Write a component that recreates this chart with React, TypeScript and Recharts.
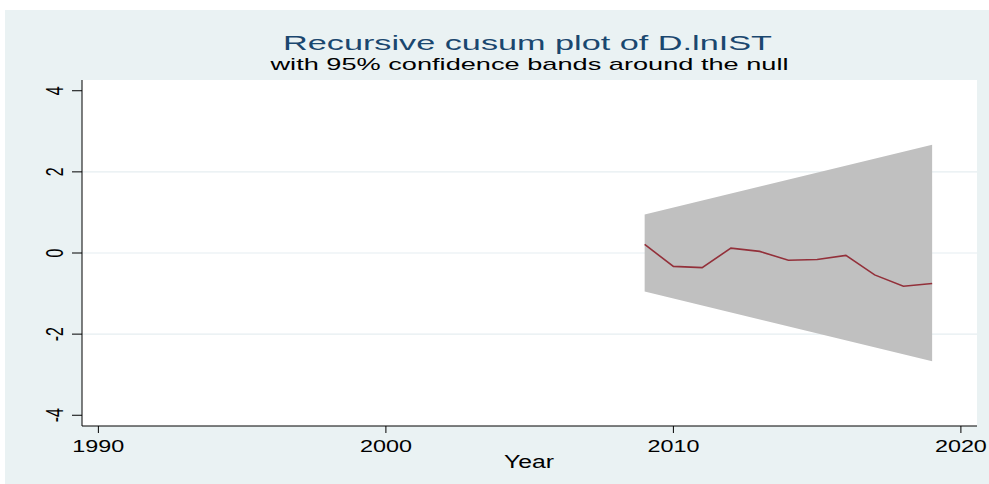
import { ComposedChart, Line, Area, XAxis, YAxis, CartesianGrid } from 'recharts';

// recursive cusum and its 95% band (band given at the first and last year)
const years = [2009, 2010, 2011, 2012, 2013, 2014, 2015, 2016, 2017, 2018, 2019];
const cusum = [0.21, -0.33, -0.36, 0.12, 0.04, -0.18, -0.16, -0.06, -0.54, -0.82, -0.75];
const bandYears = [2009, 2019];
const bandLower = [-0.95, -2.67];
const bandUpper = [0.95, 2.67];

const xTicks = [1990, 2000, 2010, 2020];
const yTicks = [-4, -2, 0, 2, 4];
const gridValues = [-2, 0, 2];
const yDomain: [number, number] = [-4.265, 4.265];

const rows = years.map((year, i) => {
  const b = bandYears.indexOf(year);
  return {
    year,
    cusum: cusum[i],
    lo: b >= 0 ? bandLower[b] : null,
    hi: b >= 0 ? bandUpper[b] : null,
  };
});

const FONT = '"Liberation Sans", Arial, sans-serif';

// gridlines only at the inner ticks, placed on the y scale
const gridRows = ({ yAxis, offset }: any) => {
  const scale = yAxis?.scale;
  if (typeof scale === 'function') return gridValues.map(v => scale(v));
  const [lo, hi] = yDomain;
  return gridValues.map(v => offset.top + ((hi - v) / (hi - lo)) * offset.height);
};

const XTick = (props: any) => {
  const { x, payload } = props;
  return (
    <text x={x} y={452} textAnchor="middle" fontFamily={FONT} fontSize={16.5}
      fill="#000" textLength={52} lengthAdjust="spacingAndGlyphs">
      {payload.value}
    </text>
  );
};

const YTick = (props: any) => {
  const { y, payload } = props;
  return (
    <text transform={`translate(62.5, ${y}) scale(1.5, 1) rotate(-90)`} textAnchor="middle"
      fontFamily={FONT} fontSize={16} fill="#000">
      {payload.value}
    </text>
  );
};

export default function App() {
  return (
    <div style={{ position: 'fixed', left: 0, top: 0, width: 989, height: 484, background: '#fff', overflow: 'hidden' }}>
      <div style={{ position: 'absolute', left: 5, top: 10, width: 984, height: 474, background: '#EAF2F3' }} />
      <div style={{ position: 'absolute', left: 0, top: 0 }}>
        <ComposedChart width={989} height={484} data={rows}
          margin={{ top: 80, right: 12, bottom: 0, left: 0 }}>
          <CartesianGrid vertical={false} fill="#fff" stroke="#E6EEF1" strokeWidth={1.2}
            horizontalCoordinatesGenerator={gridRows} />
          <XAxis dataKey="year" type="number" domain={[1989.43, 2020.56]} ticks={xTicks}
            allowDataOverflow height={58} tickSize={7} tick={XTick}
            axisLine={{ stroke: '#000' }} tickLine={{ stroke: '#000' }} />
          <YAxis type="number" domain={yDomain} ticks={yTicks} allowDataOverflow
            width={82} tickSize={10} tick={YTick}
            axisLine={{ stroke: '#000' }} tickLine={{ stroke: '#000' }} />
          <Area type="linear" dataKey={(d: any) => (d.lo == null ? null : [d.lo, d.hi])}
            fill="#C0C0C0" fillOpacity={1} stroke="none" connectNulls isAnimationActive={false} />
          <Line type="linear" dataKey="cusum" stroke="#93303A" strokeWidth={1.6} dot={false}
            isAnimationActive={false} />
        </ComposedChart>
      </div>
      <svg width={989} height={484} style={{ position: 'absolute', left: 0, top: 0, pointerEvents: 'none' }}>
        <text x={527.5} y={49.5} textAnchor="middle" fontFamily={FONT} fontSize={21} fill="#1A476F"
          textLength={489} lengthAdjust="spacingAndGlyphs">
          Recursive cusum plot of D.lnIST
        </text>
        <text x={529.5} y={69.5} textAnchor="middle" fontFamily={FONT} fontSize={17} fill="#000"
          textLength={518} lengthAdjust="spacingAndGlyphs">
          with 95% confidence bands around the null
        </text>
        <text x={529} y={467.5} textAnchor="middle" fontFamily={FONT} fontSize={17.5} fill="#000"
          textLength={50} lengthAdjust="spacingAndGlyphs">
          Year
        </text>
      </svg>
    </div>
  );
}
